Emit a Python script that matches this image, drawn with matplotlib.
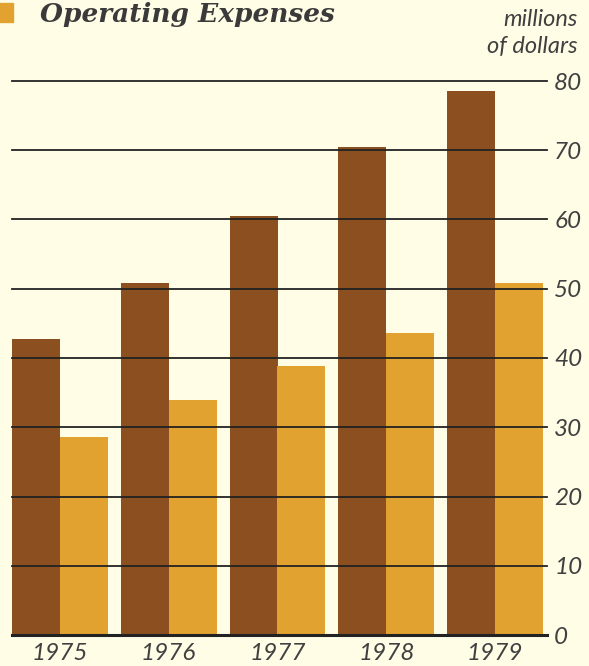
import numpy as np
import matplotlib
matplotlib.use("Agg")
import matplotlib.pyplot as plt

years = ["1975", "1976", "1977", "1978", "1979"]
revenues = [42.7, 50.8, 60.5, 70.4, 78.6]
expenses = [28.6, 33.9, 38.8, 43.6, 50.8]
yticks = [0, 10, 20, 30, 40, 50, 60, 70, 80]

BG = "#FFFDE6"
DARK = "#8C5020"
LIGHT = "#E2A230"
INK = "#404040"
lbl = dict(family=["Lato", "DejaVu Sans"], style="italic", color=INK)

fig = plt.figure(figsize=(5.89, 6.66), dpi=100, facecolor=BG)
ax = fig.add_axes([12/589, 31/666, 531/589, 554/666], facecolor=BG)

x = np.arange(len(years))
w = 0.44
ax.bar(x - w/2, revenues, w, color=DARK, zorder=1)
ax.bar(x + w/2, expenses, w, color=LIGHT, zorder=1)

# gridlines sit on top of the bars and run a little past them
for v in yticks:
    ax.plot([0, 1.008], [v, v], transform=ax.get_yaxis_transform(), clip_on=False,
            color="#222222", lw=2.2 if v == 0 else 1.3, zorder=3)

ax.set_xlim(-w, len(years) - 1 + w)
ax.set_ylim(0, 80)
ax.set_xticks(x)
ax.set_xticklabels(years, fontsize=17.5, **lbl)
ax.set_yticks(yticks)
ax.set_yticklabels([str(v) for v in yticks], fontsize=17.5, **lbl)
ax.yaxis.tick_right()
ax.tick_params(length=0, axis="y", pad=8)
ax.tick_params(length=0, axis="x", pad=6)
for s in ax.spines.values():
    s.set_visible(False)

fig.text(578/589, 1 - 19/666, "millions", ha="right", va="center", fontsize=17, **lbl)
fig.text(578/589, 1 - 46/666, "of dollars", ha="right", va="center", fontsize=17, **lbl)

# legend entry
fig.patches.append(plt.Rectangle((0, 1 - 22/666), 13/589, 19/666, transform=fig.transFigure,
                                 color=LIGHT, figure=fig))
fig.text(40/589, 1 - 22/666, "Operating Expenses", ha="left", va="baseline", fontsize=19,
         family=["DejaVu Serif"], style="italic", weight="bold", color="#3a3a3a")

fig.savefig("out.png", dpi=100, facecolor=BG)
